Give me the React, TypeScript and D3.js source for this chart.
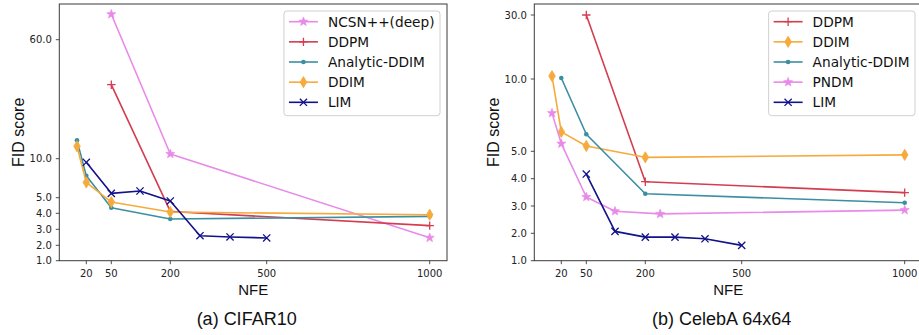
import React, { useEffect, useRef } from "react";
import * as d3 from "d3";

// NFE axis (same on both plots): the paper uses its own uneven spacing,
// stops below are NFE -> px inside a 387.7px wide axes box
const nfeStops = [10, 20, 50, 100, 200, 300, 400, 500, 1000];
const nfeStopPx = [17.7, 27, 52, 80.7, 111, 140.7, 170.7, 207.4, 370.4];
const nfeTicks = [20, 50, 200, 500, 1000];

// FID axes are uneven too (px from top of a 256.7px tall axes box)
const cifarFidStops = [1, 2, 3, 4, 5, 10, 60, 75];
const cifarFidStopPx = [256.7, 241.3, 225.3, 209.3, 193.7, 154.7, 35.7, 0];
const cifarFidTicks = [1, 2, 3, 4, 5, 10, 60];
const celebaFidStops = [1, 2, 3, 4, 5, 10, 30, 33.4];
const celebaFidStopPx = [256.7, 229.3, 202, 174.7, 147.3, 75, 11, 0];
const celebaFidTicks = [1, 2, 3, 4, 5, 10, 30];

// (a) CIFAR10
const cifarNcsnNfe = [50, 200, 1000];
const cifarNcsnFid = [70.7, 12.0, 2.47];
const cifarDdpmNfe = [50, 200, 1000];
const cifarDdpmFid = [41.1, 4.12, 3.23];
const cifarAnalyticNfe = [10, 20, 50, 200, 1000];
const cifarAnalyticFid = [17.7, 7.8, 4.36, 3.64, 3.81];
const cifarDdimNfe = [10, 20, 50, 200, 1000];
const cifarDdimFid = [15.2, 6.95, 4.72, 4.08, 3.91];
const cifarLimNfe = [20, 50, 100, 200, 300, 400, 500];
const cifarLimFid = [9.54, 5.56, 5.86, 4.79, 2.6, 2.52, 2.46];

// (b) CelebA 64x64
const celebaDdpmNfe = [50, 200, 1000];
const celebaDdpmFid = [30.0, 3.89, 3.49];
const celebaDdimNfe = [10, 20, 50, 200, 1000];
const celebaDdimFid = [10.9, 6.34, 5.37, 4.78, 4.87];
const celebaAnalyticNfe = [20, 50, 200, 1000];
const celebaAnalyticFid = [10.3, 6.18, 3.45, 3.12];
const celebaPndmNfe = [10, 20, 50, 100, 250, 1000];
const celebaPndmFid = [7.64, 5.53, 3.33, 2.81, 2.71, 2.85];
const celebaLimNfe = [50, 100, 200, 300, 400, 500];
const celebaLimFid = [4.17, 2.07, 1.86, 1.86, 1.8, 1.56];

const VIOLET = "#e88ae8";
const RED = "#d43d50";
const TEAL = "#3b8fa1";
const ORANGE = "#f7aa3c";
const NAVY = "#12128a";

const AX_W = 387.7;
const AX_H = 256.7;
const AX_TOP = 4;
const TICK_FONT = "DejaVu Sans";
const LABEL_FONT = "Liberation Sans, Arial, sans-serif";

function starPath(ro: number, ri: number) {
  const pts: string[] = [];
  for (let i = 0; i < 10; i++) {
    const r = i % 2 === 0 ? ro : ri;
    const a = -Math.PI / 2 + (i * Math.PI) / 5;
    pts.push((r * Math.cos(a)).toFixed(2) + "," + (r * Math.sin(a)).toFixed(2));
  }
  return "M" + pts.join("L") + "Z";
}

function drawMarker(g: any, kind: string, color: string) {
  if (kind === "star") {
    g.append("path").attr("d", starPath(4.8, 2)).attr("fill", color).attr("stroke", color).attr("stroke-width", 0.6);
  } else if (kind === "plus") {
    g.append("path").attr("d", "M-4.2,0H4.2M0,-4.2V4.2").attr("stroke", color).attr("stroke-width", 1.3).attr("fill", "none");
  } else if (kind === "dot") {
    g.append("circle").attr("r", 2.3).attr("fill", color);
  } else if (kind === "diamond") {
    g.append("path").attr("d", "M0,-5.6L3.3,0L0,5.6L-3.3,0Z").attr("fill", color).attr("stroke", color).attr("stroke-width", 0.8);
  } else if (kind === "x") {
    g.append("path").attr("d", "M-3.6,-3.6L3.6,3.6M-3.6,3.6L3.6,-3.6").attr("stroke", color).attr("stroke-width", 1.3).attr("fill", "none");
  }
}

const panels = [
  {
    left: 59.3,
    title: "(a) CIFAR10",
    fidStops: cifarFidStops,
    fidStopPx: cifarFidStopPx,
    fidTicks: cifarFidTicks,
    series: [
      { name: "NCSN++(deep)", nfe: cifarNcsnNfe, fid: cifarNcsnFid, color: VIOLET, marker: "star" },
      { name: "DDPM", nfe: cifarDdpmNfe, fid: cifarDdpmFid, color: RED, marker: "plus" },
      { name: "Analytic-DDIM", nfe: cifarAnalyticNfe, fid: cifarAnalyticFid, color: TEAL, marker: "dot" },
      { name: "DDIM", nfe: cifarDdimNfe, fid: cifarDdimFid, color: ORANGE, marker: "diamond" },
      { name: "LIM", nfe: cifarLimNfe, fid: cifarLimFid, color: NAVY, marker: "x" },
    ],
  },
  {
    left: 534.3,
    title: "(b) CelebA 64x64",
    fidStops: celebaFidStops,
    fidStopPx: celebaFidStopPx,
    fidTicks: celebaFidTicks,
    series: [
      { name: "DDPM", nfe: celebaDdpmNfe, fid: celebaDdpmFid, color: RED, marker: "plus" },
      { name: "DDIM", nfe: celebaDdimNfe, fid: celebaDdimFid, color: ORANGE, marker: "diamond" },
      { name: "Analytic-DDIM", nfe: celebaAnalyticNfe, fid: celebaAnalyticFid, color: TEAL, marker: "dot" },
      { name: "PNDM", nfe: celebaPndmNfe, fid: celebaPndmFid, color: VIOLET, marker: "star" },
      { name: "LIM", nfe: celebaLimNfe, fid: celebaLimFid, color: NAVY, marker: "x" },
    ],
  },
];

const App = () => {
  const canvas = useRef(null);

  useEffect(() => {
    const svg = d3.select(canvas.current);
    svg.selectAll("*").remove();

    panels.forEach((p: any) => {
      const L = p.left;
      const B = AX_TOP + AX_H;
      const x = d3.scaleLinear().domain(nfeStops).range(nfeStopPx.map((v) => L + v));
      const y = d3.scaleLinear().domain(p.fidStops).range(p.fidStopPx.map((v: number) => AX_TOP + v));

      const g = svg.append("g");

      // lines + markers
      p.series.forEach((s: any) => {
        const pts = s.nfe.map((n: number, i: number) => [n, s.fid[i]]);
        const line = d3
          .line()
          .x((d: any) => x(d[0]))
          .y((d: any) => y(d[1]));
        g.append("path")
          .datum(pts)
          .attr("d", line as any)
          .attr("fill", "none")
          .attr("stroke", s.color)
          .attr("stroke-width", 1.6)
          .attr("stroke-linejoin", "round");
        pts.forEach((d: any) => {
          const m = g.append("g").attr("transform", `translate(${x(d[0])},${y(d[1])})`);
          drawMarker(m, s.marker, s.color);
        });
      });

      // frame
      g.append("rect")
        .attr("x", L)
        .attr("y", AX_TOP)
        .attr("width", AX_W)
        .attr("height", AX_H)
        .attr("fill", "none")
        .attr("stroke", "#3a3a3a")
        .attr("stroke-width", 1);

      // x ticks
      nfeTicks.forEach((t) => {
        g.append("line").attr("x1", x(t)).attr("x2", x(t)).attr("y1", B).attr("y2", B + 3.5).attr("stroke", "#3a3a3a").attr("stroke-width", 0.9);
        g.append("text")
          .attr("x", x(t))
          .attr("y", B + 16.6)
          .attr("text-anchor", "middle")
          .style("font-family", TICK_FONT)
          .style("font-size", "10px")
          .attr("fill", "#222")
          .text(t);
      });
      // y ticks
      p.fidTicks.forEach((t: number) => {
        g.append("line").attr("x1", L - 3.5).attr("x2", L).attr("y1", y(t)).attr("y2", y(t)).attr("stroke", "#3a3a3a").attr("stroke-width", 0.9);
        g.append("text")
          .attr("x", L - 7.5)
          .attr("y", y(t) + 3.6)
          .attr("text-anchor", "end")
          .style("font-family", TICK_FONT)
          .style("font-size", "10px")
          .attr("fill", "#222")
          .text(d3.format(".1f")(t));
      });

      // axis titles
      g.append("text")
        .attr("x", L + AX_W / 2)
        .attr("y", 295)
        .attr("text-anchor", "middle")
        .style("font-family", LABEL_FONT)
        .style("font-size", "15px")
        .attr("fill", "#111")
        .text("NFE");
      g.append("text")
        .attr("transform", `translate(${L - 35.5},${AX_TOP + AX_H / 2}) rotate(-90)`)
        .attr("text-anchor", "middle")
        .style("font-family", LABEL_FONT)
        .style("font-size", "16px")
        .attr("fill", "#111")
        .text("FID score");
      g.append("text")
        .attr("x", L + AX_W / 2 - 6.5)
        .attr("y", 325)
        .attr("text-anchor", "middle")
        .style("font-family", LABEL_FONT)
        .style("font-size", "18px")
        .attr("fill", "#111")
        .text(p.title);

      // legend
      const LEG_ROW = 20.15;
      const leg = g.append("g");
      const box = leg.append("rect");
      let maxLen = 0;
      const texts: any[] = [];
      p.series.forEach((s: any, i: number) => {
        const cy = 10.7 + i * LEG_ROW;
        leg.append("line").attr("x1", 5).attr("x2", 34).attr("y1", cy).attr("y2", cy).attr("stroke", s.color).attr("stroke-width", 1.6);
        drawMarker(leg.append("g").attr("transform", `translate(19.5,${cy})`), s.marker, s.color);
        const tx = leg
          .append("text")
          .attr("x", 44)
          .attr("y", cy + 5)
          .style("font-family", TICK_FONT)
          .style("font-size", "13.7px")
          .attr("fill", "#111")
          .text(s.name);
        texts.push(tx);
        const len = (tx.node() as any).getComputedTextLength();
        if (len > maxLen) maxLen = len;
      });
      const boxW = 44 + maxLen + 5.5;
      box
        .attr("x", 0)
        .attr("y", 0)
        .attr("width", boxW)
        .attr("height", 104.7)
        .attr("rx", 3)
        .attr("fill", "white")
        .attr("fill-opacity", 0.85)
        .attr("stroke", "#d0d0d0")
        .attr("stroke-width", 1);
      leg.attr("transform", `translate(${L + AX_W - 7 - boxW},11)`);
    });
  }, []);

  return (
    <svg
      ref={canvas}
      width={919}
      height={335}
      style={{ position: "absolute", left: 0, top: 0, background: "white" }}
    ></svg>
  );
};

export default App;
